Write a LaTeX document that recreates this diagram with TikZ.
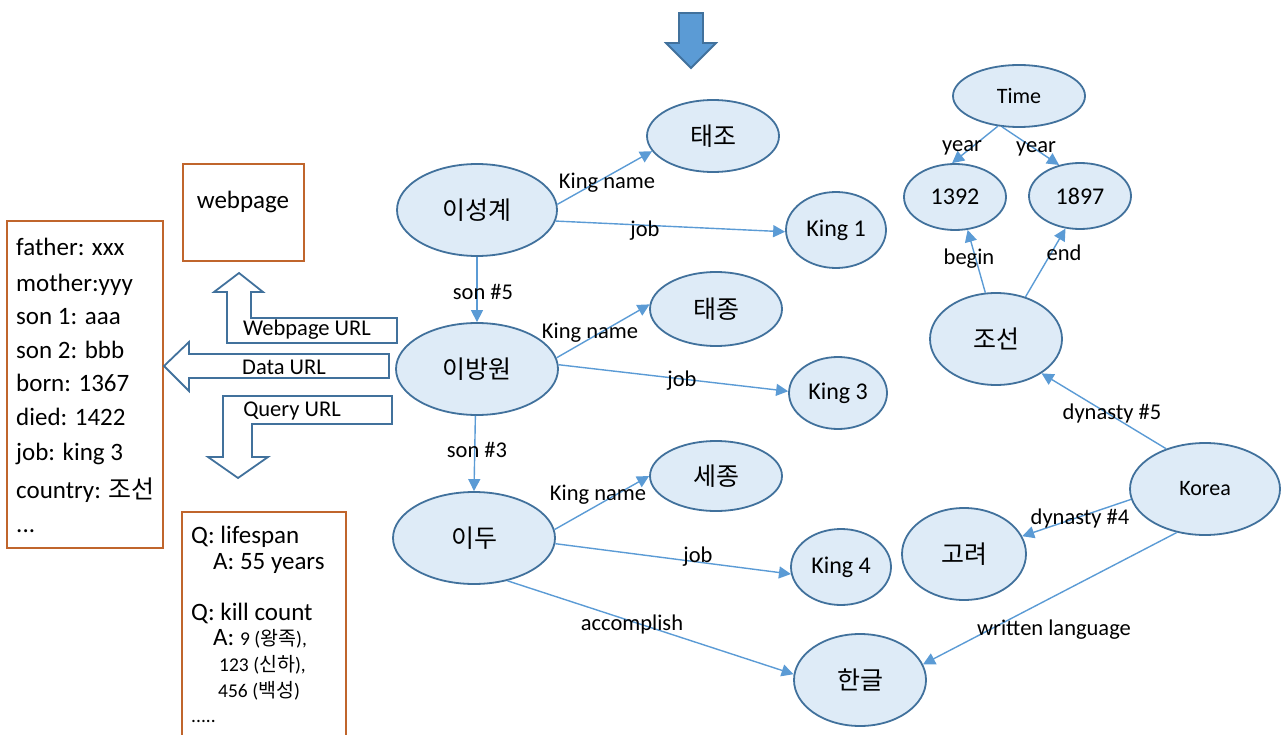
\documentclass[tikz,border=0pt]{standalone}
\usepackage{fontspec}
\setmainfont{Carlito}
\newfontfamily\kr{Noto Sans CJK KR}
\usetikzlibrary{shapes.geometric,arrows.meta}
\definecolor{efill}{HTML}{DEEBF7}
\definecolor{eline}{HTML}{41719C}
\definecolor{edgec}{HTML}{5B9BD5}
\definecolor{boxc}{HTML}{C0652C}
\begin{document}
\begin{tikzpicture}[x=1pt,y=-1pt,
  en/.style={ellipse, draw=eline, fill=efill, line width=1.8pt, inner sep=0pt,
    font=\fontsize{24}{28}\selectfont},
  kn/.style={en, font=\fontsize{25}{28}\selectfont\kr},
  sn/.style={en, font=\fontsize{22}{26}\selectfont},
  conn/.style={draw=edgec, line width=1.4pt, -{Triangle[length=12pt,width=12pt]}},
  elabel/.style={font=\fontsize{22.5}{26}\selectfont, inner sep=0pt},
  boxline/.style={draw=boxc, line width=1.8pt},
  btext/.style={font=\fontsize{25}{30}\selectfont, anchor=base west, inner sep=0pt},
  stext/.style={font=\fontsize{19.5}{24}\selectfont, anchor=base west, inner sep=0pt},
  barrow/.style={draw=eline, line width=1.8pt, fill=white, line join=miter},
  atext/.style={font=\fontsize{22.5}{26}\selectfont, inner sep=0pt}
]
\useasboundingbox (0,0) rectangle (1287,735);

% top arrow
\draw[draw=eline, fill=edgec, line width=1.8pt]
  (679,13) -- (703,13) -- (703,43) -- (716,43) -- (691,68) -- (666,43) -- (679,43) -- cycle;

% boxes
\draw[boxline] (7,221) rectangle (163,548);
\draw[boxline] (183,164) rectangle (304,261);
\draw[boxline] (182,737) -- (182,512) -- (346,512) -- (346,737);

\node[font=\fontsize{25}{30}\selectfont, inner sep=0pt] (wp) at (243,202) {webpage};

\node[btext] (t1) at (16,256) {father: xxx};
\node[btext] (t2) at (16,291) {mother:yyy};
\node[btext] (t3) at (16,324) {son 1: aaa};
\node[btext] (t4) at (16,358) {son 2: bbb};
\node[btext] (t5) at (16,391) {born: 1367};
\node[btext] (t6) at (16,425) {died: 1422};
\node[btext] (t7) at (16,460) {job: king 3};
\node[btext] (t8) at (16,498) {country: {\kr 조선}};
\node[btext] (t9) at (16,532) {...};

\node[btext] (q1) at (191,543) {Q: lifespan};
\node[btext] (q2) at (213,569) {A: 55 years};
\node[btext] (q3) at (191,620) {Q: kill count};
\node[btext] (q4) at (213,645) {A: {\fontsize{19.5}{24}\selectfont 9 ({\kr 왕족}),}};
\node[stext] (q5) at (219,671) {123 ({\kr 신하}),};
\node[stext] (q6) at (218,697) {456 ({\kr 백성})};
\node[stext] (q7) at (191,722) {.....};

% block arrows
\draw[barrow] (227,343) -- (397,343) -- (397,318) -- (251,318) -- (251,292) -- (263,292)
  -- (239,273) -- (214,292) -- (227,292) -- cycle;
\draw[barrow] (389,354) -- (189,354) -- (189,342) -- (164,366) -- (189,391) -- (189,378)
  -- (389,378) -- cycle;
\draw[barrow] (392,396) -- (223,396) -- (223,457) -- (208,457) -- (238,478) -- (268,457)
  -- (252,457) -- (252,424) -- (392,424) -- cycle;
\node[atext] (u1) at (307,330) {Webpage URL};
\node[atext] (u2) at (284,367) {Data URL};
\node[atext] (u3) at (292,411) {Query URL};

% graph nodes
\node[kn, minimum width=160pt, minimum height=92pt] (a) at (477,210) {이성계};
\node[kn, minimum width=162pt, minimum height=92pt] (b) at (477,369) {이방원};
\node[kn, minimum width=162pt, minimum height=92pt] (c) at (474,538) {이두};
\node[kn, minimum width=132pt, minimum height=72pt] (d) at (713,136) {태조};
\node[en, minimum width=100pt, minimum height=76pt] (e) at (836,230) {King 1};
\node[kn, minimum width=132pt, minimum height=74pt] (f) at (716,309) {태종};
\node[en, minimum width=98pt, minimum height=72pt] (g) at (838,393) {King 3};
\node[kn, minimum width=132pt, minimum height=70pt] (h) at (716,476) {세종};
\node[en, minimum width=100pt, minimum height=76pt] (i) at (841,567) {King 4};
\node[kn, minimum width=132pt, minimum height=92pt] (j) at (860,680) {한글};
\node[sn, minimum width=132pt, minimum height=62pt] (k) at (1019,96) {Time};
\node[en, minimum width=102pt, minimum height=66pt] (l) at (955,197) {1392};
\node[en, minimum width=102pt, minimum height=66pt] (m) at (1080,196) {1897};
\node[kn, minimum width=132pt, minimum height=92pt] (n) at (996,339) {조선};
\node[sn, minimum width=150pt, minimum height=92pt] (o) at (1205,489) {Korea};
\node[kn, minimum width=124pt, minimum height=92pt] (p) at (964,554) {고려};

% connectors
\draw[conn] (a.4) -- (d.194);
\draw[conn] (a.-8) -- (e.182);
\draw[conn] (a.south) -- (b.north);
\draw[conn] (b.8) -- (f.176);
\draw[conn] (b.3) -- (g.178);
\draw[conn] (b.268) -- (c.north);
\draw[conn] (c.6) -- (h.180);
\draw[conn] (c.-4) -- (i.188);
\draw[conn] (c.-52) -- (j.175);
\draw[conn] (k.235) -- (l.95);
\draw[conn] (k.241) -- (m.124);
\draw[conn] (n.103) -- (l.-69);
\draw[conn] (n.55) -- (m.246);
\draw[conn] (o.134) -- (n.-37);
\draw[conn] (o.188) -- (p.17);
\draw[conn] (o.237) -- (j.14);

% connector labels
\node[elabel] (la) at (607,183) {King name};
\node[elabel] (lb) at (645,231) {job};
\node[elabel] (lc) at (483,292) {son \#5};
\node[elabel] (ld) at (590,333) {King name};
\node[elabel] (le) at (682,381) {job};
\node[elabel] (lf) at (477,450) {son \#3};
\node[elabel] (lg) at (598,495) {King name};
\node[elabel] (lh) at (698,557) {job};
\node[elabel] (li) at (632,624) {accomplish};
\node[elabel] (lj) at (962,148) {year};
\node[elabel] (lk) at (1036,149) {year};
\node[elabel] (ll) at (969,259) {begin};
\node[elabel] (lm) at (1064,253) {end};
\node[elabel] (ln) at (1112,413) {dynasty \#5};
\node[elabel] (lo) at (1080,518) {dynasty \#4};
\node[elabel] (lp) at (1054,630) {written language};
\end{tikzpicture}
\end{document}
